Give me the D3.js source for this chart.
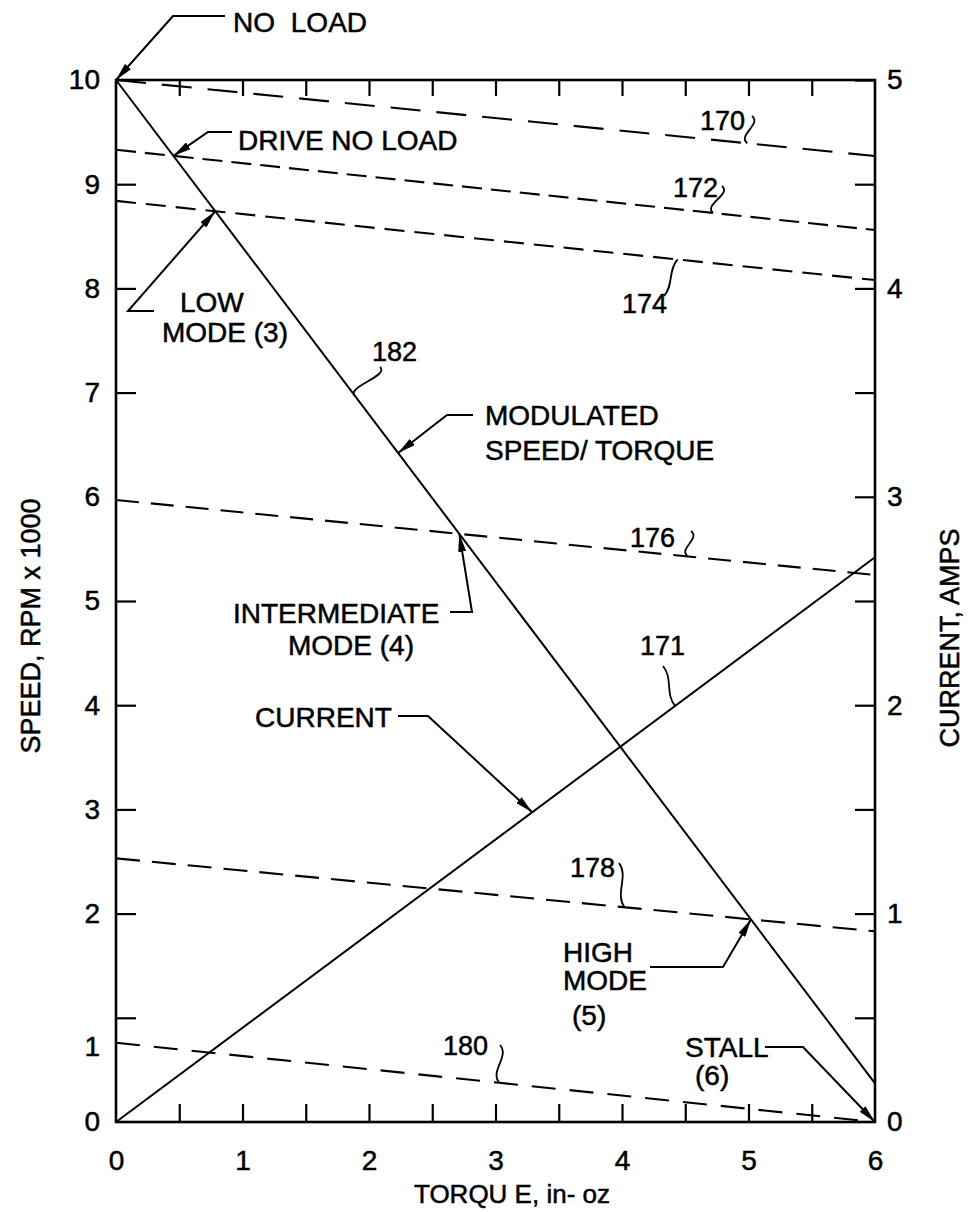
<!DOCTYPE html>
<html>
<head>
<meta charset="utf-8">
<script src="https://cdn.jsdelivr.net/npm/d3@7/dist/d3.min.js"></script>
<style>
    body { margin: 0; background: #fff; }
    text { font-family: "Liberation Sans", Arial, sans-serif; fill: #000; stroke: #000; stroke-width: 0.5px; }
    .tick text { font-size: 28px; }
    .note { font-size: 28px; }
    .ref { font-size: 27px; }
    .title { font-size: 27px; }
    .title.x-title { font-size: 26px; }
</style>
</head>
<body>
<svg id="chart-svg" width="970" height="1212"></svg>
<script>
// Axis values
const torqueTicks = [0, 0.5, 1, 1.5, 2, 2.5, 3, 3.5, 4, 4.5, 5, 5.5, 6];
const speedTicks = [0, 1, 2, 3, 4, 5, 6, 7, 8, 9, 10];
const currentTicks = [0, 0.5, 1, 1.5, 2, 2.5, 3, 3.5, 4, 4.5, 5];

// Solid curves, values at torque 0 and torque 6
const curveTorque = [0, 6];
const modulatedSpeed = [10, 0.37];   // 182, speed x 1000
const currentAmps = [0, 2.71];       // 171, amps

// Dashed load lines (speed x 1000 at torque 0 and at torque 6)
const loadNames = ["170", "172", "174", "176", "178", "180"];
const loadStart = [10, 9.33, 8.84, 5.97, 2.53, 0.76];
const loadEnd = [9.27, 8.56, 8.08, 5.25, 1.83, 0.0];

class SpeedTorqueChart
{
    constructor()
    {
        this.svg = d3.select("#chart-svg");
        this.left = 116;
        this.right = 875;
        this.top = 80;
        this.bottom = 1122;

        this.x = d3.scaleLinear().domain([0, 6]).range([this.left, this.right]);
        this.ySpeed = d3.scaleLinear().domain([0, 10]).range([this.bottom, this.top]);
        this.yCurrent = d3.scaleLinear().domain([0, 5]).range([this.bottom, this.top]);

        this.dashes = {"170": "30,16", "172": "20,9", "174": "20,10", "176": "23,12", "178": "24,12", "180": "24,14"};

        this.loads = loadNames.map((name, i) => ({name: name, values: [loadStart[i], loadEnd[i]]}));
    }

    // speed of a line at a given torque (straight lines between torque 0 and 6)
    valueAt(values, t)
    {
        return values[0] + (values[1] - values[0]) * t / 6;
    }

    // torque where the modulated line crosses a load line
    crossing(values)
    {
        const a = modulatedSpeed[1] - modulatedSpeed[0];
        const b = values[1] - values[0];
        return 6 * (values[0] - modulatedSpeed[0]) / (a - b);
    }

    speedPoint(values, t)
    {
        return [this.x(t), this.ySpeed(this.valueAt(values, t))];
    }

    draw()
    {
        this.drawAxes();
        this.drawLines();
        this.drawNotes();
    }

    drawAxes()
    {
        const svg = this.svg;
        const intLabel = d => Number.isInteger(d) ? d : "";

        svg.append("g")
            .attr("transform", `translate(0,${this.bottom})`)
            .call(d3.axisBottom(this.x).tickValues(torqueTicks).tickSize(-18).tickSizeOuter(0).tickPadding(28).tickFormat(intLabel));

        svg.append("g")
            .attr("transform", `translate(0,${this.top})`)
            .call(d3.axisTop(this.x).tickValues(torqueTicks.slice(1, -1)).tickSize(-16).tickSizeOuter(0).tickFormat(""));

        const leftAxis = svg.append("g")
            .attr("transform", `translate(${this.left},0)`)
            .call(d3.axisLeft(this.ySpeed).tickValues(speedTicks).tickSize(-20).tickSizeOuter(0).tickPadding(16));

        // the original sheet has its "1" lettered below the tick
        leftAxis.selectAll(".tick").filter(d => d === 1).select("text").attr("dy", "1.35em");

        svg.append("g")
            .attr("transform", `translate(${this.right},0)`)
            .call(d3.axisRight(this.yCurrent).tickValues(currentTicks).tickSize(-20).tickSizeOuter(0).tickPadding(12).tickFormat(intLabel));

        svg.selectAll(".domain").remove();
        svg.selectAll(".tick line").attr("stroke", "#000").attr("stroke-width", 2.2);
        // no tick marks on the corners
        svg.selectAll(".tick").filter(d => d === 0 || d === 6 || d === 10)
            .select("line").attr("stroke-width", 0);

        svg.append("rect")
            .attr("x", this.left)
            .attr("y", this.top)
            .attr("width", this.right - this.left)
            .attr("height", this.bottom - this.top)
            .attr("fill", "none")
            .attr("stroke", "#000")
            .attr("stroke-width", 2.6);

        svg.append("text")
            .attr("class", "title x-title")
            .attr("text-anchor", "middle")
            .attr("x", 512)
            .attr("y", 1203)
            .text("TORQU E, in- oz");

        svg.append("text")
            .attr("class", "title")
            .attr("text-anchor", "middle")
            .attr("transform", "translate(40,626) rotate(-90)")
            .text("SPEED, RPM x 1000");

        svg.append("text")
            .attr("class", "title")
            .attr("text-anchor", "middle")
            .attr("transform", "translate(959,638) rotate(-90)")
            .text("CURRENT, AMPS");
    }

    drawLines()
    {
        const svg = this.svg;

        const speedLine = d3.line().x((d, i) => this.x(curveTorque[i])).y(d => this.ySpeed(d));
        const currentLine = d3.line().x((d, i) => this.x(curveTorque[i])).y(d => this.yCurrent(d));

        svg.selectAll("path.load")
            .data(this.loads)
            .join("path")
            .attr("class", "load")
            .attr("d", d => speedLine(d.values))
            .attr("fill", "none")
            .attr("stroke", "#000")
            .attr("stroke-width", 2.1)
            .attr("stroke-dasharray", d => this.dashes[d.name]);

        svg.append("path")
            .attr("d", speedLine(modulatedSpeed))
            .attr("fill", "none")
            .attr("stroke", "#000")
            .attr("stroke-width", 2);

        svg.append("path")
            .attr("d", currentLine(currentAmps))
            .attr("fill", "none")
            .attr("stroke", "#000")
            .attr("stroke-width", 2);
    }

    drawNotes()
    {
        const svg = this.svg;
        const load = name => this.loads.find(l => l.name === name).values;
        const modeTip = name => { const t = this.crossing(load(name)); return this.speedPoint(modulatedSpeed, t); };

        svg.append("defs").append("marker")
            .attr("id", "arrow")
            .attr("viewBox", "0 0 18 8")
            .attr("refX", 18)
            .attr("refY", 4)
            .attr("markerWidth", 18)
            .attr("markerHeight", 8)
            .attr("markerUnits", "userSpaceOnUse")
            .attr("orient", "auto")
            .append("path")
            .attr("d", "M0,0 L18,4 L0,8 Z")
            .attr("fill", "#000");

        // text blocks: [text, x, baseline]
        const texts = [
            ["NO LOAD", 233, 32], ["DRIVE NO LOAD", 238, 150],
            ["LOW", 180, 312], ["MODE (3)", 162, 342],
            ["MODULATED", 485, 425], ["SPEED/ TORQUE", 485, 460],
            ["INTERMEDIATE", 233, 623], ["MODE (4)", 288, 655],
            ["CURRENT", 255, 727],
            ["HIGH", 563, 962], ["MODE", 563, 990], ["(5)", 572, 1025],
            ["STALL", 685, 1057], ["(6)", 695, 1085]
        ];

        svg.selectAll("text.note")
            .data(texts)
            .join("text")
            .attr("class", "note")
            .attr("x", d => d[1])
            .attr("y", d => d[2])
            .attr("word-spacing", d => d[0] === "NO LOAD" ? 8 : 0)
            .text(d => d[0]);

        // leaders: two fixed points, then arrow to the marked spot
        const leaders = [
            [[225, 16], [173, 16], [this.x(0), this.ySpeed(10)]],
            [[232, 132], [208, 132], modeTip("172")],
            [[154, 311], [128, 311], modeTip("174")],
            [[473, 415], [447, 415], this.speedPoint(modulatedSpeed, 2.23)],
            [[450, 612], [472, 612], modeTip("176")],
            [[398, 716], [428, 716], [this.x(3.29), this.yCurrent(this.valueAt(currentAmps, 3.29))]],
            [[650, 967], [723, 967], modeTip("178")],
            [[765, 1047], [803, 1047], [this.x(6), this.ySpeed(0)]]
        ];

        svg.selectAll("path.leader")
            .data(leaders)
            .join("path")
            .attr("class", "leader")
            .attr("d", d => d3.line()(d))
            .attr("fill", "none")
            .attr("stroke", "#000")
            .attr("stroke-width", 2)
            .attr("marker-end", "url(#arrow)");

        // reference numbers with their small curly ticks
        const refs = [
            {text: "170", x: 700, y: 130, from: [752, 116], line: load("170"), at: 4.99, amps: false},
            {text: "172", x: 673, y: 197, from: [722, 186], line: load("172"), at: 4.72, amps: false},
            {text: "174", x: 622, y: 313, from: [664, 296], line: load("174"), at: 4.44, amps: false},
            {text: "176", x: 630, y: 547, from: [691, 531], line: load("176"), at: 4.52, amps: false},
            {text: "178", x: 570, y: 877, from: [619, 863], line: load("178"), at: 4.02, amps: false},
            {text: "180", x: 443, y: 1055, from: [500, 1045], line: load("180"), at: 3.03, amps: false},
            {text: "182", x: 372, y: 361, from: [380, 367], line: modulatedSpeed, at: 1.89, amps: false},
            {text: "171", x: 640, y: 655, from: [663, 666], line: currentAmps, at: 4.42, amps: true}
        ];

        svg.selectAll("text.ref")
            .data(refs)
            .join("text")
            .attr("class", "ref")
            .attr("x", d => d.x)
            .attr("y", d => d.y)
            .text(d => d.text);

        svg.selectAll("path.squiggle")
            .data(refs)
            .join("path")
            .attr("class", "squiggle")
            .attr("d", d => {
                const s = d.from;
                const yScale = d.amps ? this.yCurrent : this.ySpeed;
                const e = [this.x(d.at), yScale(this.valueAt(d.line, d.at))];
                const dy = e[1] - s[1];
                return `M${s[0]},${s[1]} C${s[0] + 10},${s[1] + dy * 0.3} ${e[0] - 10},${e[1] - dy * 0.3} ${e[0]},${e[1]}`;
            })
            .attr("fill", "none")
            .attr("stroke", "#000")
            .attr("stroke-width", 1.8);
    }
}

const chart = new SpeedTorqueChart();
chart.draw();
</script>
</body>
</html>
